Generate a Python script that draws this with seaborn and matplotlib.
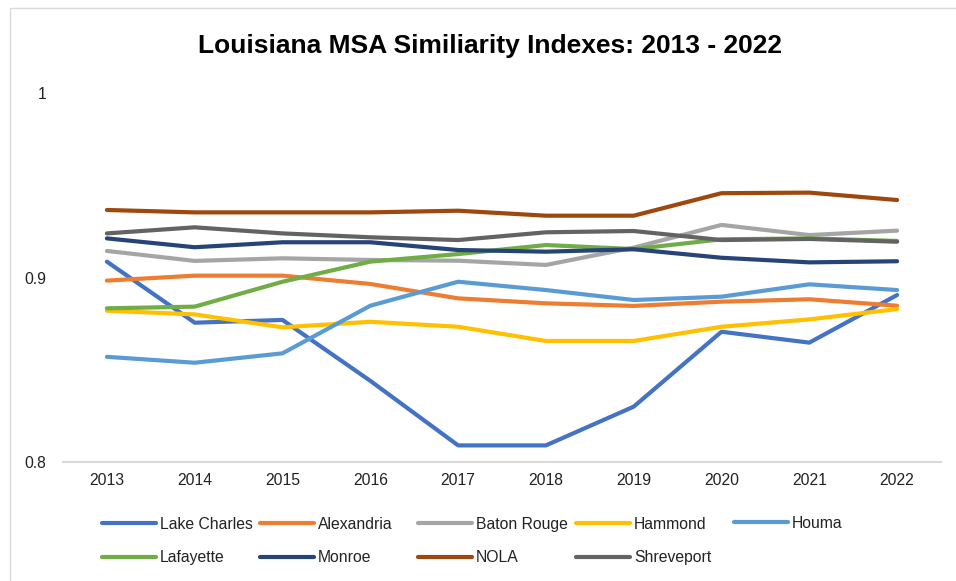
import matplotlib
matplotlib.use("Agg")
import matplotlib.pyplot as plt
from matplotlib.patches import Rectangle
import seaborn as sns
import pandas as pd

years = [2013, 2014, 2015, 2016, 2017, 2018, 2019, 2020, 2021, 2022]

lake_charles = [0.9086, 0.8755, 0.8770, 0.8440, 0.8090, 0.8090, 0.8300, 0.8706, 0.8647, 0.8905]
alexandria   = [0.8983, 0.9010, 0.9010, 0.8965, 0.8887, 0.8860, 0.8846, 0.8869, 0.8882, 0.8847]
baton_rouge  = [0.9144, 0.9090, 0.9104, 0.9095, 0.9091, 0.9068, 0.9162, 0.9285, 0.9230, 0.9254]
hammond      = [0.8820, 0.8800, 0.8730, 0.8760, 0.8733, 0.8656, 0.8656, 0.8733, 0.8773, 0.8829]
houma        = [0.8570, 0.8538, 0.8589, 0.8847, 0.8977, 0.8932, 0.8878, 0.8896, 0.8963, 0.8932]
lafayette    = [0.8833, 0.8842, 0.8977, 0.9086, 0.9127, 0.9176, 0.9154, 0.9207, 0.9212, 0.9198]
monroe       = [0.9212, 0.9164, 0.9191, 0.9191, 0.9149, 0.9140, 0.9153, 0.9107, 0.9082, 0.9088]
nola         = [0.9366, 0.9353, 0.9353, 0.9353, 0.9362, 0.9335, 0.9335, 0.9457, 0.9460, 0.9420]
shreveport   = [0.9239, 0.9272, 0.9239, 0.9218, 0.9203, 0.9245, 0.9252, 0.9203, 0.9209, 0.9194]

series_names = ["Lake Charles", "Alexandria", "Baton Rouge", "Hammond", "Houma",
                "Lafayette", "Monroe", "NOLA", "Shreveport"]
series_values = [lake_charles, alexandria, baton_rouge, hammond, houma,
                 lafayette, monroe, nola, shreveport]
colors = ["#4472C4", "#ED7D31", "#A5A5A5", "#FFC000", "#5B9BD5",
          "#70AD47", "#264478", "#9E480E", "#636363"]

y_ticks = [0.8, 0.9, 1.0]
y_tick_labels = ["0.8", "0.9", "1"]
title = "Louisiana MSA Similiarity Indexes: 2013 - 2022"

rows = []
for name, vals in zip(series_names, series_values):
    for yr, v in zip(years, vals):
        rows.append({"Year": yr, "Value": v, "MSA": name})
df = pd.DataFrame(rows)

sns.set_style("white")
plt.rcParams["font.family"] = ["Liberation Sans", "DejaVu Sans"]

W, H = 956, 581
fig = plt.figure(figsize=(W / 100, H / 100), dpi=100)
fig.patch.set_facecolor("white")

# chart-area border
fig.patches.append(Rectangle((10 / W, 0 - 0.01), 1.0, 1 - 8 / H + 0.01,
                             transform=fig.transFigure, fill=False,
                             edgecolor="#d9d9d9", linewidth=1.0, clip_on=False))

ax = fig.add_axes([63 / W, (H - 462) / H, (941 - 63) / W, (462 - 93) / H])
palette = dict(zip(series_names, colors))
sns.lineplot(data=df, x="Year", y="Value", hue="MSA", hue_order=series_names,
             palette=palette, linewidth=3, legend=False, ax=ax,
             solid_capstyle="round", solid_joinstyle="round")

ax.set_xlim(years[0] - 0.5, years[-1] + 0.5)
ax.set_ylim(0.8, 1.0)
ax.set_xticks(years)
ax.set_xticklabels([str(y) for y in years], fontsize=11.3, color="#222222")
ax.set_yticks(y_ticks)
ax.set_yticklabels(y_tick_labels, fontsize=11.3, color="#222222")
ax.tick_params(axis="both", length=0)
ax.tick_params(axis="x", pad=8)
ax.tick_params(axis="y", pad=12)
ax.set_xlabel("")
ax.set_ylabel("")
ax.grid(False)
for s in ["left", "right", "top"]:
    ax.spines[s].set_visible(False)
ax.spines["bottom"].set_color("#d9d9d9")
ax.spines["bottom"].set_linewidth(1.5)
ax.set_facecolor("none")

fig.text(490 / W, 1 - 46 / H, title, ha="center", va="center",
         fontsize=19, fontweight="bold", color="black")

# legend: 2 rows, fixed column spacing like the original
lines = ax.get_lines()
handles = dict(zip(series_names, lines[:len(series_names)]))
col_x = [102, 260, 418, 576, 734]
ncols = 5
for c in range(ncols):
    names = [series_names[i] for i in (c, c + ncols) if i < len(series_names)]
    hs = [handles[n] for n in names]
    yc = 541 if len(names) == 2 else 523
    leg = fig.legend(hs, names, loc="center left",
                     bbox_to_anchor=(col_x[c] / W, 1 - yc / H),
                     bbox_transform=fig.transFigure, frameon=False,
                     fontsize=11.3, handlelength=3.44, handletextpad=0.27,
                     labelspacing=1.15, borderpad=0, borderaxespad=0)
    for t in leg.get_texts():
        t.set_color("#222222")

fig.savefig("out.png", dpi=100)
